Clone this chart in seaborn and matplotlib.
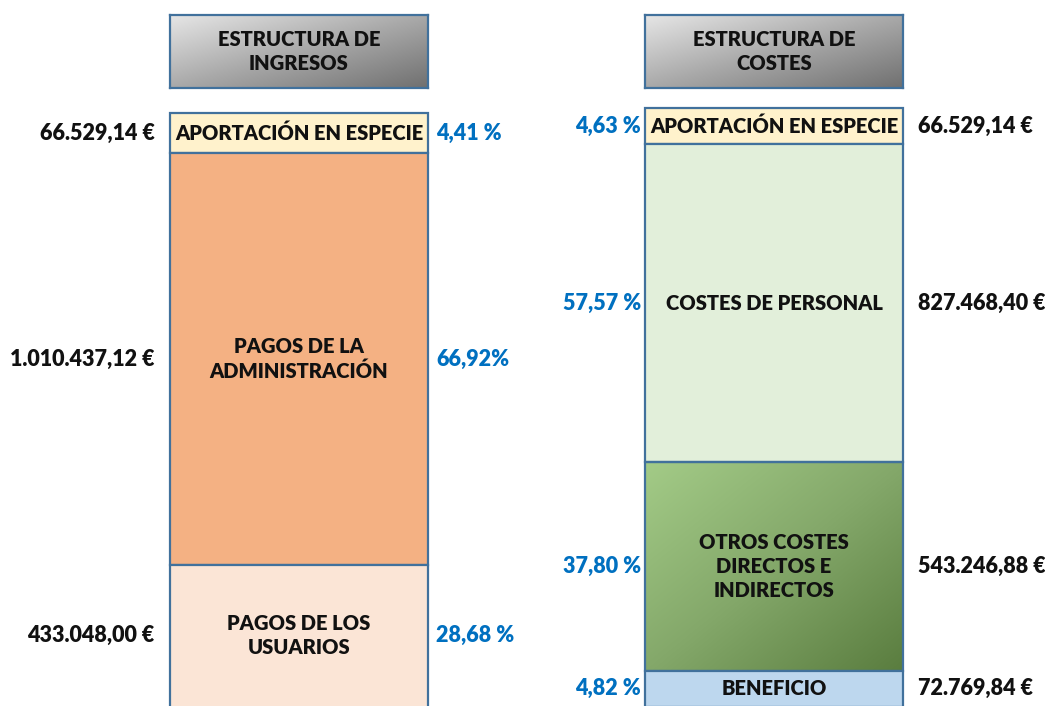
import numpy as np
import matplotlib.pyplot as plt
import seaborn as sns
from matplotlib.colors import LinearSegmentedColormap

# datos
ingresos_cat = ["APORTACIÓN EN ESPECIE", "PAGOS DE LA\nADMINISTRACIÓN", "PAGOS DE LOS\nUSUARIOS"]
ingresos_eur = [66529.14, 1010437.12, 433048.00]
ingresos_pct = [4.41, 66.92, 28.68]
ingresos_pct_txt = ["4,41 %", "66,92%", "28,68 %"]

costes_cat = ["APORTACIÓN EN ESPECIE", "COSTES DE PERSONAL", "OTROS COSTES\nDIRECTOS E\nINDIRECTOS", "BENEFICIO"]
costes_eur = [66529.14, 827468.40, 543246.88, 72769.84]
costes_pct = [4.63, 57.57, 37.80, 4.82]
costes_pct_txt = ["4,63 %", "57,57 %", "37,80 %", "4,82 %"]

sns.set_theme(style="white")
plt.rcParams['font.family'] = ['Lato', 'DejaVu Sans']

W, H = 1045, 706
borde = '#41719C'
azul = '#0070C0'
fs = 14.5
peso = 'heavy'
minimo = 6.5  # altura minima visible de un tramo (en %)

gris = LinearSegmentedColormap.from_list('gris', ['#E6E6E6', '#A9A9A9', '#707070'])
verde = LinearSegmentedColormap.from_list('verde', ['#A3CB87', '#84A86A', '#5A7D3F'])


def euros(v):
    s = f"{v:,.2f}".replace(',', 'X').replace('.', ',').replace('X', '.')
    return s + " €"


def degradado(n=200):
    xx, yy = np.meshgrid(np.linspace(0, 1, n), np.linspace(0, 1, n))
    return (xx + yy) / 2


def cabecera(x0, texto):
    ax = fig.add_axes([x0 / W, 1 - 88 / H, 258 / W, 73 / H])
    ax.imshow(degradado(), cmap=gris, extent=(0, 1, 0, 1), origin='upper', aspect='auto')
    ax.set_xlim(0, 1)
    ax.set_ylim(0, 1)
    ax.set_xticks([])
    ax.set_yticks([])
    for sp in ax.spines.values():
        sp.set_color(borde)
        sp.set_linewidth(1.6)
    ax.text(0.5, 0.5, texto, ha='center', va='center', fontsize=fs, fontweight=peso,
            color='#111111', linespacing=1.3)


def columna(x0, top, escala, cats, pct, pct_txt, eur, colores, lado_pct):
    alto_ax = (H - top) / escala
    ax = fig.add_axes([x0 / W, 0, 258 / W, (H - top) / H])
    alturas = np.maximum(pct, minimo)
    base = np.concatenate([[0], np.cumsum(alturas)[:-1]])
    for i in range(len(cats)):
        col = colores[i]
        sns.barplot(x=[0], y=[alturas[i]], bottom=base[i], width=1, ax=ax,
                    color=col if col != 'grad' else 'white', saturation=1,
                    edgecolor=borde, linewidth=1.6, clip_on=False, zorder=3)
    ax.set_xlim(-0.5, 0.5)
    ax.set_ylim(alto_ax, 0)
    # tramo con degradado
    for i, col in enumerate(colores):
        if col == 'grad':
            patch = ax.patches[i]
            patch.set_facecolor('none')
            im = ax.imshow(degradado(), cmap=verde, origin='upper', aspect='auto',
                           extent=(-0.5, 0.5, base[i] + alturas[i], base[i]), zorder=2)
            im.set_clip_path(patch)
    ax.set_xlim(-0.5, 0.5)
    ax.set_ylim(alto_ax, 0)
    ax.axis('off')

    for i in range(len(cats)):
        y0 = base[i]
        y1 = min(base[i] + alturas[i], alto_ax)
        yc = (y0 + y1) / 2
        ax.text(0, yc, cats[i], ha='center', va='center', fontsize=fs, fontweight=peso,
                color='#111111', linespacing=1.3, zorder=5)
        if lado_pct == 'der':
            ax.annotate(euros(eur[i]), xy=(-0.5, yc), xytext=(-11, 0), textcoords='offset points',
                        ha='right', va='center', fontsize=15.5, fontweight=peso, color='#111111',
                        annotation_clip=False)
            ax.annotate(pct_txt[i], xy=(0.5, yc), xytext=(6, 0), textcoords='offset points',
                        ha='left', va='center', fontsize=15.5, fontweight=peso, color=azul,
                        annotation_clip=False)
        else:
            ax.annotate(pct_txt[i], xy=(-0.5, yc), xytext=(-3, 0), textcoords='offset points',
                        ha='right', va='center', fontsize=15.5, fontweight=peso, color=azul,
                        annotation_clip=False)
            ax.annotate(euros(eur[i]), xy=(0.5, yc), xytext=(11, 0), textcoords='offset points',
                        ha='left', va='center', fontsize=15.5, fontweight=peso, color='#111111',
                        annotation_clip=False)


fig = plt.figure(figsize=(W / 100, H / 100), dpi=100)

cabecera(170, "ESTRUCTURA DE\nINGRESOS")
cabecera(645, "ESTRUCTURA DE\nCOSTES")

columna(170, 113, 412 / 66.92, ingresos_cat, ingresos_pct, ingresos_pct_txt, ingresos_eur,
        ['#FFF2CC', '#F4B183', '#FBE5D6'], 'der')
columna(645, 108, 563 / (minimo + 57.57 + 37.80), costes_cat, costes_pct, costes_pct_txt, costes_eur,
        ['#FFF2CC', '#E2EFDA', 'grad', '#BDD7EE'], 'izq')

plt.savefig('out.png', dpi=100)
